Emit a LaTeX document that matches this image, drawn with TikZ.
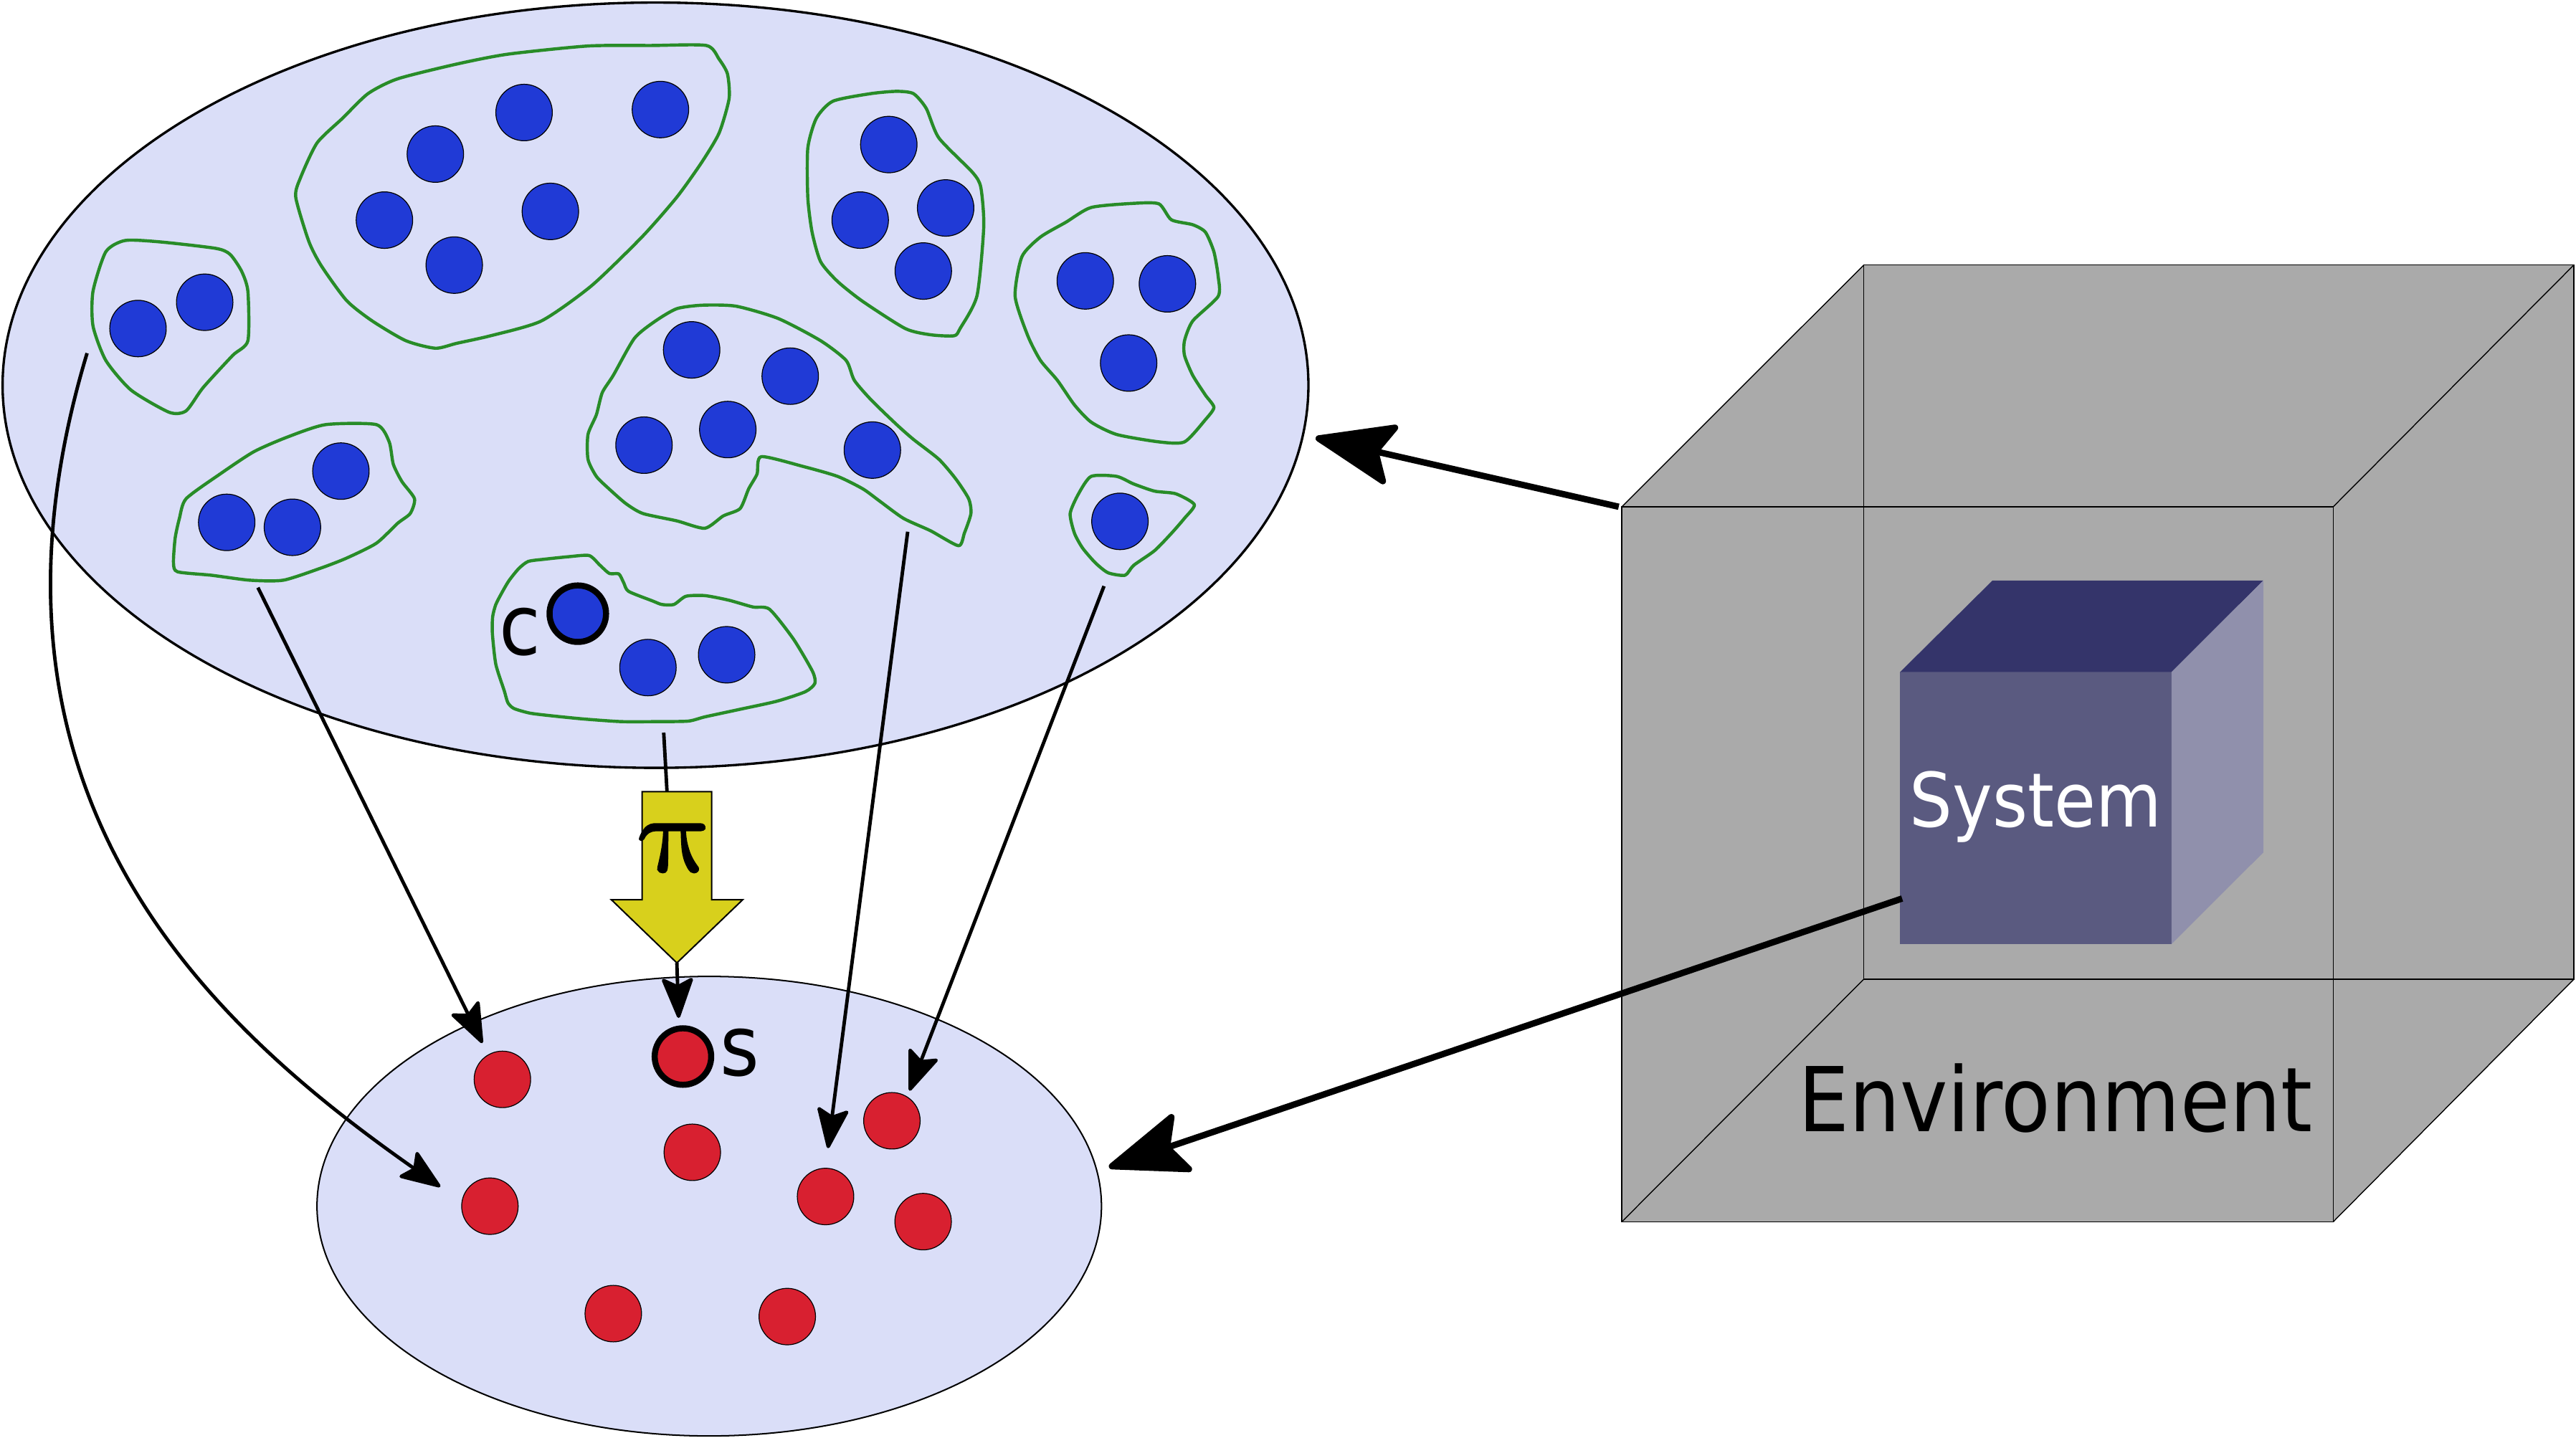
\documentclass[tikz,border=0pt]{standalone}
\usepackage{fontspec}
\usetikzlibrary{arrows.meta,shapes.geometric}
\newfontfamily\dvs[FakeStretch=0.9]{DejaVu Sans}
\newfontfamily\pifont[FakeBold=1.6]{Latin Modern Math}
\definecolor{ellfill}{RGB}{218,222,248}
\definecolor{bluec}{RGB}{32,58,214}
\definecolor{redc}{RGB}{216,32,48}
\definecolor{greenc}{RGB}{40,140,40}
\definecolor{yellowc}{RGB}{216,208,28}
\definecolor{envgray}{RGB}{170,170,170}
\definecolor{sysfront}{RGB}{90,90,128}
\definecolor{systop}{RGB}{52,52,106}
\definecolor{sysside}{RGB}{144,144,172}
\begin{document}
\begin{tikzpicture}[x=0.02cm,y=-0.02cm,
  dot/.style={circle,draw=black,line width=0.3pt,minimum size=0.688cm,inner sep=0pt},
  bdot/.style={dot,fill=bluec},
  rdot/.style={dot,fill=redc},
  hl/.style={line width=2.1pt},
  cluster/.style={draw=greenc,line width=1.1pt,line join=round},
  conn/.style={draw=black,line width=1.2pt,-{Stealth[length=0.54cm,width=0.41cm,inset=0.1cm,round]}},
  bigconn/.style={draw=black,line width=2.2pt,-{Stealth[length=1.06cm,width=0.8cm,inset=0.2cm,round]}},
  cubeline/.style={draw=black,line width=0.35pt},
  lbl/.style={font=\dvs\fontsize{29}{34}\selectfont,inner sep=0pt}
]
\useasboundingbox (0,0) rectangle (1568,875);

% ellipses
\node[ellipse,draw=black,line width=0.83pt,fill=ellfill,minimum width=15.9cm,minimum height=9.32cm,inner sep=0pt] (top) at (399,234.5) {};
\node[ellipse,draw=black,line width=0.5pt,fill=ellfill,minimum width=9.552cm,minimum height=5.596cm,inner sep=0pt] (bot) at (431.7,734.3) {};

% clusters
\draw[cluster] plot[smooth cycle,tension=0.4] coordinates {(76.2,146.4) (97.8,147.3) (131.3,151.2) (140,154.8) (147,165) (150.9,177.4) (150.9,207.4) (141.6,216.4) (123.6,236) (113.3,250.1) (103,251) (79.8,237.5) (64.4,219.4) (56.6,198.4) (56.6,177.4) (64.4,153.3)};
\draw[cluster] plot[smooth cycle,tension=0.4] coordinates {(430,27.7) (396.5,27.7) (357.9,28) (309,33) (278,39) (242,48) (224,57) (208.5,72) (193,87) (183,108) (180,120) (188,147) (195.7,162) (211,183) (226.6,195.4) (247,207.4) (265,212) (278,209) (298.6,204.4) (329.5,195.4) (360,174) (391,144) (412,120) (427,99) (437.7,81) (443.8,60) (442.8,45) (437.7,36)};
\draw[cluster] plot[smooth cycle,tension=0.4] coordinates {(507,61.6) (530,57) (545.8,55.6) (556,57) (563.8,66) (571.5,84) (592,105) (597,114) (598.8,138) (594.7,180) (584.4,200) (580.8,204.4) (566.4,203.8) (551,200) (525,183.4) (509.8,171.3) (499.5,159.3) (494.3,141.3) (491.7,120.2) (491.7,90.2) (496.9,72)};
\draw[cluster] plot[smooth cycle,tension=0.4] coordinates {(664.2,126.3) (690,123.8) (705.4,124.1) (713,133.8) (726,136.8) (733.7,141.3) (738.9,153.3) (741.5,168.3) (741.5,180.4) (726,195.4) (721,207.4) (721,216.4) (726,228.5) (733.7,240.5) (738.9,248) (733.7,255.5) (721,269) (705.4,269) (679.7,264.5) (664.2,257) (654,246.5) (643.6,231.5) (633.3,219.4) (625.6,204.4) (617.9,180.4) (622,156.3) (633.3,144.3) (648.8,135.3)};
\draw[cluster] plot[smooth cycle,tension=0.4] coordinates {(412,187.9) (427.4,185.8) (448,186.4) (473.7,193.9) (499.5,207.4) (515,219.4) (520,231.5) (530.3,243.5) (545.8,258.5) (556,267.5) (571.5,279.6) (581.8,291.6) (589.6,303.6) (591,312.6) (587,324.6) (583.4,332.2) (566.4,323.1) (550,315.6) (535.5,305.1) (525.2,297.6) (509.8,290) (489,284) (463.4,278) (460.8,288.6) (455.7,297.6) (450.5,309.6) (440.2,314.1) (429,321.6) (412,317.1) (391.3,312.6) (381,306.6) (370.7,297.6) (363,290) (357.9,279.6) (357.9,264.5) (363,252.5) (366.6,239) (373.3,228.5) (386.2,205.9) (399,195.4)};
\draw[cluster] plot[smooth cycle,tension=0.4] coordinates {(198.2,258.5) (229.1,258.5) (236.9,269) (239.4,282.6) (244.6,293.1) (252.3,303.6) (249.7,312.6) (242,318.6) (229.1,330.7) (211.1,339.7) (195.7,345.7) (172.5,353.2) (151.9,353.2) (128.7,350.2) (108.1,348.1) (105.6,342.7) (106.6,327.7) (109.2,315.6) (113.3,303.6) (133.9,288.6) (154.5,275) (175.1,266)};
\draw[cluster] plot[smooth cycle,tension=0.4] coordinates {(321.5,341.8) (331.7,340.4) (346.2,338.9) (358.6,338.2) (365.1,344) (370.9,349.1) (376.7,349.4) (379.7,354.9) (382.6,360) (397.1,365.8) (402.9,368) (410.2,368) (417.5,363) (429.1,362.6) (443.7,365.4) (458.2,369.5) (468.4,370.9) (483,389.1) (494.6,408.8) (496,416) (490.2,421.1) (472.8,426.9) (449.5,432) (429.1,436.4) (418.9,439) (400,439.3) (378.2,439.3) (356.4,437.8) (338.9,436.1) (322.9,434.2) (312.8,431.3) (309.1,427.7) (306.9,420.4) (301.8,404.4) (299.7,385.5) (299.9,375.3) (301.8,368) (305.5,360.8) (309.8,353.5) (315.7,346.2)};
\draw[cluster] plot[smooth cycle,tension=0.4] coordinates {(664.2,290) (679.7,290) (690,294.6) (702.8,299) (715.7,300.6) (727,307.2) (720.9,315.6) (713.1,324.6) (702.8,335.2) (690,344.2) (684.8,350.2) (674.5,348.7) (666.8,342.7) (659,333.7) (654,324.6) (651.4,312.6) (656.5,300.6)};

% blue dots
\node[bdot] (b1) at (84,200) {};
\node[bdot] (b2) at (124.6,184) {};
\node[bdot] (b3) at (319,68.5) {};
\node[bdot] (b4) at (402,66.7) {};
\node[bdot] (b5) at (265,93.8) {};
\node[bdot] (b6) at (234,134) {};
\node[bdot] (b7) at (335,128.7) {};
\node[bdot] (b8) at (276.5,161.4) {};
\node[bdot] (b9) at (541,88) {};
\node[bdot] (b10) at (523.6,134) {};
\node[bdot] (b11) at (575.6,126.6) {};
\node[bdot] (b12) at (562,165) {};
\node[bdot] (b13) at (660.6,171) {};
\node[bdot] (b14) at (710.6,172.8) {};
\node[bdot] (b15) at (687,221) {};
\node[bdot] (b16) at (421,213) {};
\node[bdot] (b17) at (481,229) {};
\node[bdot] (b18) at (392,271) {};
\node[bdot] (b19) at (443,261.5) {};
\node[bdot] (b20) at (531,274) {};
\node[bdot] (b21) at (138,318) {};
\node[bdot] (b22) at (178,321) {};
\node[bdot] (b23) at (207.5,286.8) {};
\node[bdot,hl] (c) at (351.7,373.6) {};
\node[bdot] (b25) at (394.4,406.4) {};
\node[bdot] (b26) at (442.3,398.6) {};
\node[bdot] (b27) at (681.7,317.4) {};
\node[lbl] (clbl) at (316.4,384.8) {c};

% red dots
\node[rdot] (r1) at (305.8,657.1) {};
\node[rdot] (r2) at (298.2,734.3) {};
\node[rdot] (r3) at (421.4,701.5) {};
\node[rdot,hl] (s) at (415.7,643.2) {};
\node[rdot] (r5) at (502.5,728.4) {};
\node[rdot] (r6) at (542.9,682.3) {};
\node[rdot] (r7) at (561.9,743.7) {};
\node[rdot] (r8) at (373.3,799.7) {};
\node[rdot] (r9) at (479.2,801.5) {};
\node[lbl] (slbl) at (450.1,641) {s};

% projection arrow
\coordinate (pis) at (404,446);
\coordinate (pit) at (406,481.9);
\coordinate (ytip) at (412,586.2);
\coordinate (stip) at (413.1,619.7);
\draw[line width=1.2pt] (pis) -- (pit);
\draw[fill=yellowc,line width=0.5pt] (390.9,481.9) -- (433.2,481.9) -- (433.2,547.7) -- (452.1,547.7) -- (ytip) -- (372.1,547.7) -- (390.9,547.7) -- cycle;
\node[inner sep=0pt] (pi) at (411.7,516.4) {\scalebox{1.15}[1]{\pifont\fontsize{38}{42}\selectfont π}};
\draw[conn] (ytip) -- (stip);

% connectors
\coordinate (a1s) at (53,215);
\coordinate (a1e) at (268,722.5);
\coordinate (a2s) at (157,357.7);
\coordinate (a2e) at (293.6,635);
\coordinate (a3s) at (552.5,323.7);
\coordinate (a3e) at (504,699);
\coordinate (a4s) at (672,356.8);
\coordinate (a4e) at (553.6,664);
\draw[conn] (a1s) .. controls (-28,484) and (129,625) .. (a1e);
\draw[conn] (a2s) -- (a2e);
\draw[conn] (a3s) -- (a3e);
\draw[conn] (a4s) -- (a4e);

% environment cube
\coordinate (fTL) at (987.2,308.5);
\coordinate (fTR) at (1420.2,308.5);
\coordinate (fBR) at (1420.2,743.8);
\coordinate (fBL) at (987.2,743.8);
\coordinate (bTL) at (1134.5,161.3);
\coordinate (bTR) at (1566.7,161.3);
\coordinate (bBR) at (1566.7,596.1);
\coordinate (bBL) at (1134.5,596.1);
\fill[envgray] (fTL) -- (bTL) -- (bTR) -- (bBR) -- (fBR) -- (fBL) -- cycle;
\draw[cubeline] (fTL) rectangle (fBR);
\draw[cubeline] (bTL) rectangle (bBR);
\draw[cubeline] (fTL) -- (bTL) (fTR) -- (bTR) (fBR) -- (bBR) (fBL) -- (bBL);

% system cube
\fill[sysfront] (1156.6,409.1) rectangle (1321.8,574.7);
\fill[systop] (1156.6,409.1) -- (1212.8,353.4) -- (1377.6,353.4) -- (1321.8,409.1) -- cycle;
\fill[sysside] (1321.8,409.1) -- (1377.6,353.4) -- (1377.6,519) -- (1321.8,574.7) -- cycle;
\node[anchor=base,inner sep=0pt,text=white,font=\dvs\fontsize{26}{31}\selectfont] (sys) at (1239,503.3) {System};
\node[anchor=base,inner sep=0pt,font=\dvs\fontsize{31}{37}\selectfont] (env) at (1251,688.8) {Environment};

% environment arrows
\coordinate (eA) at (985.3,308.5);
\coordinate (tA) at (800.8,266.5);
\coordinate (eB) at (1157.8,547);
\coordinate (tB) at (675,710.6);
\draw[bigconn] (eA) -- (tA);
\draw[bigconn] (eB) -- (tB);
\end{tikzpicture}
\end{document}
